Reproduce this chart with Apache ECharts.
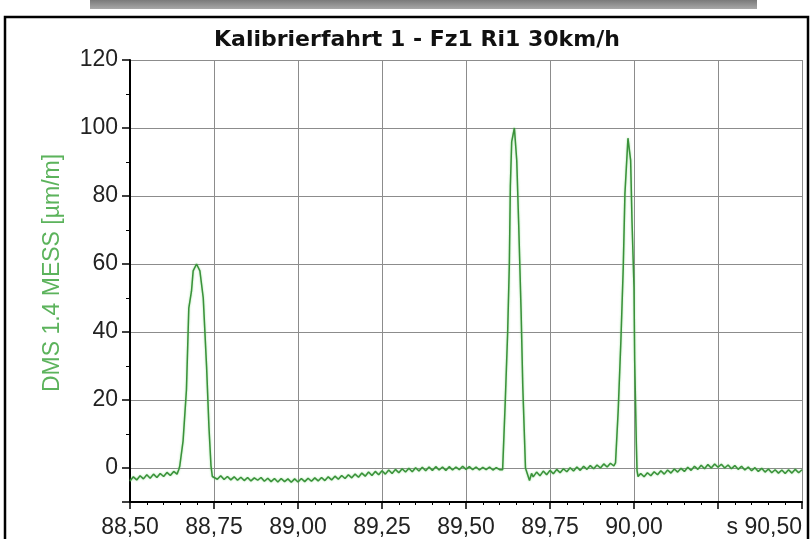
<!DOCTYPE html>
<html>
<head>
<meta charset="utf-8">
<script src="https://cdn.jsdelivr.net/npm/echarts@6/dist/echarts.min.js"></script>
<style>
html,body{margin:0;padding:0;background:#fff;}
#chart{width:811px;height:539px;}
</style>
</head>
<body>
<div id="chart"></div>
<script>
// ---- data (time in s, strain in µm/m) ----
const titleText = 'Kalibrierfahrt 1 - Fz1 Ri1 30km/h';
const yAxisName = 'DMS 1.4 MESS [µm/m]';
const xTickValues = [88.50, 88.75, 89.00, 89.25, 89.50, 89.75, 90.00, 90.25, 90.50];
const xTickLabels = ['88,50', '88,75', '89,00', '89,25', '89,50', '89,75', '90,00', '', 's 90,50'];
const yTickValues = [0, 20, 40, 60, 80, 100, 120];
const yTickLabels = ['0', '20', '40', '60', '80', '100', '120'];

const timeA = [88.500,88.510,88.520,88.530,88.540,88.550,88.560,88.570,88.580,88.590,88.600,88.610,88.620,88.630,88.640,88.645];
const strainA = [-3.8,-2.6,-3.5,-2.3,-3.2,-2.0,-3.0,-1.8,-2.8,-1.6,-2.5,-1.3,-2.2,-1.0,-1.8,-0.5];

const timePeak1 = [88.648,88.658,88.668,88.675,88.683,88.688,88.698,88.708,88.718,88.728,88.735,88.741,88.745];
const strainPeak1 = [0.5,8,23,47,52,58,60,58,50,29.6,12,0.7,-2.5];

const timeB = [
  88.75,88.76,88.77,88.78,88.79,88.80,88.81,88.82,88.83,88.84,
  88.85,88.86,88.87,88.88,88.89,88.90,88.91,88.92,88.93,88.94,
  88.95,88.96,88.97,88.98,88.99,89.00,89.01,89.02,89.03,89.04,
  89.05,89.06,89.07,89.08,89.09,89.10,89.11,89.12,89.13,89.14,
  89.15,89.16,89.17,89.18,89.19,89.20,89.21,89.22,89.23,89.24,
  89.25,89.26,89.27,89.28,89.29,89.30,89.31,89.32,89.33,89.34,
  89.35,89.36,89.37,89.38,89.39,89.40,89.41,89.42,89.43,89.44,
  89.45,89.46,89.47,89.48,89.49,89.50,89.51,89.52,89.53,89.54,
  89.55,89.56,89.57,89.58,89.59,89.60,89.605];
const strainB = [
  -2.4,-3.3,-2.3,-3.4,-2.5,-3.5,-2.6,-3.6,-2.7,-3.7,
  -2.8,-3.8,-2.9,-3.6,-2.8,-3.9,-3.0,-4.0,-3.1,-4.1,
  -3.1,-4.0,-3.2,-4.2,-3.2,-4.1,-3.1,-4.0,-3.0,-3.9,
  -2.9,-3.8,-2.8,-3.7,-2.6,-3.5,-2.4,-3.3,-2.2,-3.1,
  -2.0,-2.9,-1.8,-2.7,-1.5,-2.4,-1.2,-2.2,-1.0,-2.0,
  -0.8,-1.8,-0.6,-1.6,-0.4,-1.4,-0.2,-1.2,-0.1,-1.1,
  0.1,-0.9,0.2,-0.8,0.3,-0.7,0.4,-0.6,0.3,-0.7,
  0.4,-0.6,0.3,-0.5,0.5,-0.4,0.4,-0.5,0.3,-0.6,
  0.2,-0.5,0.3,-0.6,0.1,-0.5,0.0];

const timePeak2 = [89.609,89.617,89.624,89.629,89.632,89.636,89.644,89.651,89.657,89.664,89.669,89.677,89.689];
const strainPeak2 = [-0.5,20,40,60,83,96,100,90.5,71,46,24,0,-3.7];

const timeC = [89.695,
  89.70,89.71,89.72,89.73,89.74,89.75,89.76,89.77,89.78,89.79,
  89.80,89.81,89.82,89.83,89.84,89.85,89.86,89.87,89.88,89.89,
  89.90,89.91,89.92,89.93,89.94];
const strainC = [-1.6,
  -2.6,-1.2,-2.3,-0.9,-2.0,-0.7,-1.7,-0.4,-1.4,-0.2,
  -1.1,0.1,-0.9,0.3,-0.7,0.5,-0.4,0.7,-0.2,0.9,
  0.0,1.2,0.3,1.4,0.6];

const timePeak3 = [89.945,89.953,89.961,89.968,89.973,89.982,89.990,89.994,90.000,90.002,90.007,90.009,90.012];
const strainPeak3 = [1.5,17,37.5,59,80.7,97,90.5,72.8,53,31.6,7,-0.8,-2.5];

const timeD = [90.015,
  90.02,90.03,90.04,90.05,90.06,90.07,90.08,90.09,90.10,90.11,
  90.12,90.13,90.14,90.15,90.16,90.17,90.18,90.19,90.20,90.21,
  90.22,90.23,90.24,90.25,90.26,90.27,90.28,90.29,90.30,90.31,
  90.32,90.33,90.34,90.35,90.36,90.37,90.38,90.39,90.40,90.41,
  90.42,90.43,90.44,90.45,90.46,90.47,90.48,90.49,90.50];
const strainD = [-2.8,
  -1.6,-2.6,-1.4,-2.3,-1.1,-2.0,-0.8,-1.8,-0.6,-1.5,
  -0.3,-1.2,-0.1,-1.0,0.2,-0.7,0.5,-0.4,0.8,-0.2,
  1.0,0.0,1.2,0.2,1.1,0.0,0.9,-0.2,0.7,-0.4,
  0.5,-0.6,0.3,-0.8,0.1,-1.0,-0.1,-1.2,-0.3,-1.4,
  -0.5,-1.5,-0.6,-1.6,-0.5,-1.5,-0.4,-1.4,-0.5];

// ---- assemble ----
const segments = [
  [timeA, strainA], [timePeak1, strainPeak1], [timeB, strainB], [timePeak2, strainPeak2],
  [timeC, strainC], [timePeak3, strainPeak3], [timeD, strainD]
];
const lineData = [];
segments.forEach(function (seg) {
  const t = seg[0], s = seg[1];
  const n = Math.min(t.length, s.length);
  for (let i = 0; i < n; i++) lineData.push([t[i], s[i]]);
});

function xLabel(v) {
  for (let i = 0; i < xTickValues.length; i++) {
    if (Math.abs(xTickValues[i] - v) < 1e-6) return xTickLabels[i];
  }
  return '';
}
function yLabel(v) {
  for (let i = 0; i < yTickValues.length; i++) {
    if (Math.abs(yTickValues[i] - v) < 1e-6) return yTickLabels[i];
  }
  return '';
}

const chart = echarts.init(document.getElementById('chart'), null, {renderer: 'canvas'});
chart.setOption({
  backgroundColor: '#ffffff',
  animation: false,
  title: {
    text: titleText,
    left: 209,
    top: 24,
    textStyle: {fontFamily: 'DejaVu Sans', fontWeight: 'bold', fontSize: 22, color: '#111111'}
  },
  graphic: [
    {type: 'rect', shape: {x: 90, y: 0, width: 667, height: 9},
     style: {fill: new echarts.graphic.LinearGradient(0, 0, 0, 1, [{offset: 0, color: '#7a7a7a'}, {offset: 1, color: '#a8a8a8'}])}},
    {type: 'rect', shape: {x: 5, y: 17, width: 803, height: 540},
     style: {fill: 'none', stroke: '#000000', lineWidth: 2.5}}
  ],
  grid: {left: 130, right: 9, top: 60, bottom: 37, containLabel: false},
  xAxis: {
    type: 'value',
    min: 88.5,
    max: 90.5,
    interval: 0.25,
    axisLine: {show: true, onZero: false, lineStyle: {color: '#000', width: 2}},
    axisTick: {show: true, length: 7, lineStyle: {color: '#000', width: 1.5}},
    minorTick: {show: true, splitNumber: 5, length: 3, lineStyle: {color: '#000', width: 1}},
    splitLine: {show: true, lineStyle: {color: '#8c8c8c', width: 1}},
    axisLabel: {
      formatter: xLabel, fontFamily: 'Liberation Sans', fontSize: 23, color: '#222',
      margin: 14, showMinLabel: true, showMaxLabel: true, hideOverlap: false,
      alignMaxLabel: 'right'
    }
  },
  yAxis: {
    type: 'value',
    min: -10,
    max: 120,
    splitNumber: 6,
    minInterval: 20,
    maxInterval: 20,
    name: yAxisName,
    nameLocation: 'middle',
    nameGap: 66,
    nameRotate: 90,
    nameTextStyle: {fontFamily: 'Liberation Sans', fontSize: 23, color: '#5cb35c', padding: [0, 0, 0, 16]},
    axisLine: {show: true, onZero: false, lineStyle: {color: '#000', width: 2}},
    axisTick: {show: true, length: 8, lineStyle: {color: '#000', width: 1.5}},
    minorTick: {show: true, splitNumber: 2, length: 4, lineStyle: {color: '#000', width: 1}},
    splitLine: {show: true, lineStyle: {color: '#8c8c8c', width: 1}},
    axisLabel: {formatter: yLabel, fontFamily: 'Liberation Sans', fontSize: 23, color: '#222', margin: 12}
  },
  series: [{
    type: 'line',
    data: lineData,
    showSymbol: false,
    symbol: 'none',
    lineStyle: {color: '#3a913a', width: 1.5, shadowColor: 'rgba(110,210,110,0.7)', shadowBlur: 2},
    itemStyle: {color: '#3a913a'},
    z: 5
  }]
});
</script>
</body>
</html>
